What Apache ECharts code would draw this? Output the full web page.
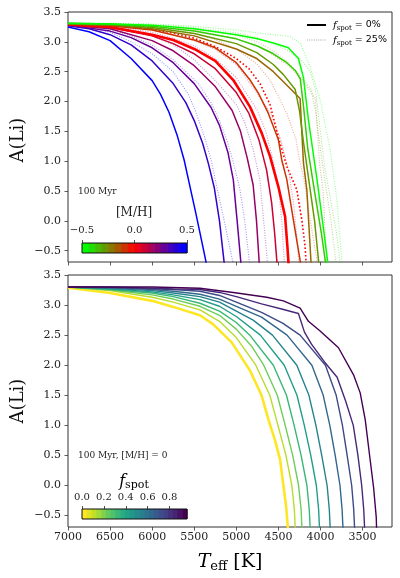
<!DOCTYPE html>
<html><head><meta charset="utf-8">
<script src="https://cdn.jsdelivr.net/npm/echarts/dist/echarts.min.js"></script>
<style>html,body{margin:0;padding:0;background:#fff}#c{width:400px;height:578px}</style>
</head><body><div id="c"></div>
<script>
// ---------- data ----------
const tempTicks = [3500, 4000, 4500, 5000, 5500, 6000, 6500, 7000];
const abundTicks = [-0.5, 0, 0.5, 1, 1.5, 2, 2.5, 3, 3.5];
const mhTicks = [-0.5, 0, 0.5];
const fspotTicks = [0, 0.2, 0.4, 0.6, 0.8];

const metallicities = [0.5, 0.4, 0.3, 0.2, 0.1, 0.0, -0.1, -0.2, -0.3, -0.4, -0.5];

// top panel, f_spot = 0%
const spot0_p05 = [[7000,3.25],[6750,3.17],[6500,3.02],[6250,2.72],[6000,2.35],[5900,2.12],[5800,1.82],[5700,1.42],[5620,1.02],[5550,0.57],[5480,0.12],[5420,-0.28],[5361,-0.68],[5340,-0.9]];
const spot0_p04 = [[7000,3.27],[6750,3.22],[6500,3.12],[6250,2.95],[6000,2.68],[5750,2.3],[5600,1.98],[5500,1.68],[5400,1.3],[5330,0.95],[5261,0.55],[5200,0.0],[5146,-0.68],[5130,-0.9]];
const spot0_p03 = [[7000,3.28],[6500,3.18],[6250,3.07],[6000,2.9],[5750,2.65],[5500,2.3],[5300,1.9],[5200,1.6],[5100,1.15],[5036,0.69],[4990,0.0],[4947,-0.68],[4938,-0.9]];
const spot0_p02 = [[7000,3.28],[6500,3.22],[6000,3.02],[5750,2.85],[5500,2.6],[5250,2.25],[5050,1.85],[4950,1.5],[4870,1.05],[4800,0.6],[4760,0.0],[4729,-0.68],[4720,-0.9]];
const spot0_p01 = [[7000,3.29],[6500,3.24],[6000,3.1],[5750,2.97],[5500,2.8],[5250,2.55],[5000,2.15],[4850,1.8],[4730,1.35],[4640,0.85],[4580,0.3],[4545,-0.2],[4518,-0.68],[4510,-0.9]];
const spot0_p00 = [[7000,3.29],[6500,3.25],[6000,3.12],[5750,3.03],[5500,2.88],[5250,2.68],[5036,2.36],[4837,1.91],[4698,1.47],[4599,1.08],[4500,0.57],[4420,0.07],[4393,-0.43],[4381,-0.68],[4375,-0.9]];
const spot0_m01 = [[7000,3.3],[6500,3.27],[6000,3.2],[5500,3.03],[5250,2.9],[5000,2.65],[4837,2.36],[4738,2.14],[4619,1.8],[4500,1.36],[4460,1.02],[4400,0.69],[4320,0.0],[4240,-0.68],[4225,-0.9]];
const spot0_m02 = [[7000,3.3],[6500,3.28],[6000,3.22],[5500,3.1],[5000,2.88],[4757,2.72],[4560,2.5],[4440,2.33],[4242,2.05],[4222,1.5],[4202,0.97],[4162,0.52],[4113,-0.68],[4105,-0.9]];
const spot0_m03 = [[7000,3.3],[6500,3.29],[6000,3.24],[5500,3.14],[5000,2.97],[4757,2.82],[4560,2.62],[4440,2.45],[4300,2.2],[4250,1.85],[4200,1.3],[4130,0.6],[4070,0.0],[4022,-0.68],[4015,-0.9]];
const spot0_m04 = [[7000,3.31],[6500,3.3],[6000,3.26],[5500,3.18],[5000,3.05],[4750,2.93],[4560,2.8],[4400,2.65],[4300,2.52],[4240,2.38],[4200,1.9],[4150,1.2],[4060,0.4],[3990,-0.2],[3942,-0.68],[3935,-0.9]];
const spot0_m05 = [[7000,3.31],[6500,3.3],[6000,3.28],[5500,3.22],[5000,3.12],[4750,3.05],[4560,2.98],[4381,2.9],[4262,2.72],[4202,2.4],[4143,1.69],[4043,0.71],[3964,-0.13],[3915,-0.68],[3908,-0.9]];

// top panel, f_spot = 25%
const spot25_p05 = [[7000,3.28],[6750,3.24],[6500,3.16],[6250,3.0],[6000,2.8],[5750,2.5],[5570,2.12],[5480,1.82],[5380,1.42],[5300,1.02],[5232,0.57],[5162,0.12],[5102,-0.28],[5043,-0.68],[5020,-0.9]];
const spot25_p04 = [[7000,3.29],[6750,3.26],[6500,3.21],[6250,3.1],[6000,2.95],[5750,2.7],[5450,2.3],[5300,1.98],[5200,1.68],[5100,1.3],[5030,0.95],[4960,0.55],[4900,0.0],[4845,-0.68],[4830,-0.9]];
const spot25_p03 = [[7000,3.29],[6500,3.25],[6250,3.19],[6000,3.1],[5750,2.95],[5500,2.7],[5250,2.35],[5000,1.95],[4900,1.65],[4800,1.2],[4720,0.69],[4675,0.0],[4631,-0.68],[4620,-0.9]];
const spot25_p02 = [[7000,3.3],[6500,3.27],[6000,3.16],[5750,3.06],[5500,2.93],[5250,2.72],[5000,2.4],[4750,1.85],[4650,1.5],[4570,1.05],[4500,0.6],[4460,0.0],[4430,-0.68],[4420,-0.9]];
const spot25_p01 = [[7000,3.3],[6500,3.28],[6000,3.2],[5750,3.12],[5500,3.02],[5250,2.87],[5000,2.62],[4760,2.15],[4590,1.8],[4470,1.35],[4380,0.85],[4320,0.3],[4285,-0.2],[4258,-0.68],[4250,-0.9]];
const spot25_p00 = [[7000,3.3],[6500,3.28],[6000,3.21],[5750,3.15],[5500,3.06],[5250,2.92],[5000,2.72],[4850,2.55],[4718,2.3],[4600,1.95],[4500,1.4],[4400,0.91],[4281,0.52],[4220,0.0],[4185,-0.4],[4171,-0.68],[4165,-0.9]];
const spot25_m01 = [[7000,3.31],[6500,3.29],[6000,3.25],[5500,3.14],[5250,3.04],[5000,2.88],[4750,2.62],[4600,2.36],[4520,2.14],[4400,1.8],[4290,1.36],[4250,1.02],[4195,0.69],[4120,0.0],[4040,-0.68],[4025,-0.9]];
const spot25_m02 = [[7000,3.31],[6500,3.3],[6000,3.27],[5500,3.2],[5000,3.05],[4750,2.93],[4560,2.78],[4380,2.6],[4250,2.42],[4060,2.05],[4035,1.5],[4012,0.97],[3970,0.52],[3925,-0.68],[3915,-0.9]];
const spot25_m03 = [[7000,3.31],[6500,3.3],[6000,3.28],[5500,3.22],[5000,3.11],[4750,3.0],[4560,2.85],[4380,2.65],[4250,2.45],[4110,2.2],[4060,1.85],[4010,1.3],[3940,0.6],[3875,0.0],[3817,-0.68],[3810,-0.9]];
const spot25_m04 = [[7000,3.31],[6500,3.31],[6000,3.29],[5500,3.24],[5000,3.15],[4750,3.07],[4560,2.97],[4380,2.85],[4230,2.7],[4120,2.5],[4060,2.2],[4010,1.6],[3950,0.9],[3860,0.2],[3810,-0.2],[3770,-0.68],[3762,-0.9]];
const spot25_m05 = [[7000,3.31],[6500,3.31],[6000,3.3],[5500,3.26],[5000,3.2],[4750,3.15],[4560,3.12],[4361,3.09],[4242,2.98],[4123,2.58],[4004,2.03],[3885,1.19],[3805,0.35],[3745,-0.68],[3738,-0.9]];

// bottom panel, [M/H] = 0, f_spot = 0.0 ... 0.9
const fspotValues = [0.0, 0.1, 0.2, 0.3, 0.4, 0.5, 0.6, 0.7, 0.8, 0.9];
const fs00 = [[7000,3.29],[6500,3.2],[6000,3.07],[5750,2.97],[5432,2.83],[5274,2.68],[5055,2.38],[4837,1.91],[4700,1.5],[4619,1.1],[4540,0.75],[4480,0.43],[4408,-0.35],[4388,-0.69],[4383,-0.9]];
const fs01 = [[7000,3.3],[6500,3.24],[6000,3.13],[5750,3.05],[5432,2.92],[5200,2.73],[5000,2.46],[4768,2.0],[4602,1.5],[4505,1.0],[4410,0.5],[4340,0.0],[4310,-0.4],[4301,-0.69],[4296,-0.9]];
const fs02 = [[7000,3.3],[6500,3.25],[6000,3.17],[5750,3.1],[5432,2.98],[5200,2.83],[5000,2.6],[4820,2.32],[4674,2.0],[4513,1.5],[4419,1.0],[4330,0.5],[4260,0.0],[4230,-0.4],[4221,-0.69],[4216,-0.9]];
const fs03 = [[7000,3.3],[6500,3.26],[6000,3.2],[5750,3.14],[5432,3.03],[5200,2.9],[5000,2.71],[4840,2.5],[4560,2.0],[4404,1.5],[4313,1.0],[4230,0.5],[4161,0.0],[4133,-0.4],[4123,-0.69],[4118,-0.9]];
const fs04 = [[7000,3.3],[6500,3.27],[6000,3.22],[5750,3.17],[5432,3.09],[5200,2.98],[5000,2.81],[4714,2.5],[4430,2.0],[4279,1.5],[4192,1.0],[4115,0.5],[4049,0.0],[4022,-0.4],[4012,-0.69],[4007,-0.9]];
const fs05 = [[7000,3.3],[6500,3.28],[6000,3.24],[5750,3.2],[5432,3.14],[5200,3.05],[5000,2.9],[4800,2.75],[4570,2.5],[4281,2.0],[4137,1.5],[4054,1.0],[3985,0.5],[3921,0.0],[3895,-0.4],[3885,-0.69],[3880,-0.9]];
const fs06 = [[7000,3.3],[6500,3.29],[6000,3.26],[5750,3.23],[5432,3.18],[5200,3.1],[5000,2.98],[4700,2.8],[4397,2.5],[4102,2.0],[3967,1.5],[3889,1.0],[3825,0.5],[3768,0.0],[3743,-0.4],[3733,-0.69],[3728,-0.9]];
const fs07 = [[7000,3.3],[6500,3.29],[6000,3.27],[5750,3.26],[5432,3.23],[5200,3.16],[5000,3.05],[4700,2.88],[4450,2.7],[4242,2.5],[3941,2.0],[3813,1.5],[3739,1.0],[3683,0.5],[3629,0.0],[3605,-0.4],[3595,-0.69],[3590,-0.9]];
const fs08 = [[7000,3.3],[6500,3.3],[6000,3.28],[5750,3.27],[5432,3.26],[5200,3.21],[5000,3.14],[4700,3.02],[4450,2.93],[4262,2.86],[4190,2.55],[4107,2.35],[3950,2.05],[3802,1.8],[3700,1.4],[3610,1.0],[3555,0.5],[3510,0.0],[3486,-0.4],[3476,-0.69],[3471,-0.9]];
const fs09 = [[7000,3.3],[6000,3.3],[5432,3.28],[5036,3.21],[4638,3.13],[4440,3.07],[4242,2.95],[4143,2.73],[4004,2.57],[3786,2.29],[3607,1.84],[3528,1.54],[3468,1.09],[3409,0.42],[3369,-0.03],[3337,-0.53],[3330,-0.9]];

const topSolid = [spot0_p05, spot0_p04, spot0_p03, spot0_p02, spot0_p01, spot0_p00, spot0_m01, spot0_m02, spot0_m03, spot0_m04, spot0_m05];
const topDotted = [spot25_p05, spot25_p04, spot25_p03, spot25_p02, spot25_p01, spot25_p00, spot25_m01, spot25_m02, spot25_m03, spot25_m04, spot25_m05];
const bottomCurves = [fs00, fs01, fs02, fs03, fs04, fs05, fs06, fs07, fs08, fs09];

// ---------- styles ----------
function mhRGB(m) {
  let r, g, b;
  if (m <= 0) { const t = (m + 0.5) / 0.5; r = 255 * t; g = 255 * (1 - t); b = 0; }
  else { const t = m / 0.5; r = 255 * (1 - t); g = 0; b = 255 * t; }
  return [Math.round(r), Math.round(g), Math.round(b)];
}
function rgbStr(c, a) { return a === undefined ? `rgb(${c[0]},${c[1]},${c[2]})` : `rgba(${c[0]},${c[1]},${c[2]},${a})`; }
const viridisStops = ['#440154','#482475','#414487','#355f8d','#2a788e','#21918c','#22a884','#44bf70','#7ad151','#bddf26','#fde725'];
function hex2rgb(h) { return [parseInt(h.slice(1,3),16), parseInt(h.slice(3,5),16), parseInt(h.slice(5,7),16)]; }
function viridis(t) {
  t = Math.max(0, Math.min(1, t));
  const s = t * 10, i = Math.min(9, Math.floor(s)), f = s - i;
  const a = hex2rgb(viridisStops[i]), b = hex2rgb(viridisStops[i + 1]);
  return [0,1,2].map(k => Math.round(a[k] + (b[k] - a[k]) * f));
}
const SERIF = 'DejaVu Serif';
const fmtNum = v => (v < 0 ? '\u2212' : '') + Math.abs(v).toFixed(1);

const grids = [
  {left: 68, top: 12, width: 324, height: 250},
  {left: 68, top: 275, width: 324, height: 252},
  {left: 82, top: 243, width: 105, height: 10},
  {left: 82, top: 509, width: 105, height: 10}
].map((g, i) => Object.assign({show: i < 2, borderColor: '#333', borderWidth: 1, backgroundColor: 'transparent', containLabel: false}, g));

function tempAxis(gi, labels) {
  return {type: 'value', gridIndex: gi, inverse: true, min: 3150, max: 7000, position: 'bottom',
    axisLine: {show: false, onZero: false}, splitLine: {show: false},
    axisTick: {show: true, customValues: tempTicks, length: 3.5, lineStyle: {color: '#333', width: 0.8}},
    axisLabel: {show: labels, customValues: tempTicks, margin: 5, fontFamily: SERIF, fontSize: 11, color: '#222', formatter: v => String(Math.round(v))}};
}
function abundAxis(gi) {
  return {type: 'value', gridIndex: gi, min: -0.69, max: 3.5, position: 'left',
    axisLine: {show: false, onZero: false}, splitLine: {show: false},
    axisTick: {show: true, customValues: abundTicks, length: 3.5, lineStyle: {color: '#333', width: 0.8}},
    axisLabel: {customValues: abundTicks, margin: 7, fontFamily: SERIF, fontSize: 11, color: '#222', formatter: fmtNum}};
}
function cbarXAxis(gi, min, max, ticks, margin) {
  return {type: 'value', gridIndex: gi, min: min, max: max, position: 'top',
    axisLine: {show: false, onZero: false}, splitLine: {show: false},
    axisTick: {show: true, customValues: ticks, length: 3, lineStyle: {color: '#222', width: 0.8}},
    axisLabel: {customValues: ticks, margin: margin, fontFamily: SERIF, fontSize: 10, color: '#222', formatter: fmtNum}};
}

const series = [];
// top dotted (fspot 25%)
topDotted.forEach((d, i) => {
  const m = metallicities[i], c = mhRGB(m), isZero = m === 0;
  series.push({type: 'line', xAxisIndex: 0, yAxisIndex: 0, data: d, showSymbol: false, symbol: 'none', z: 2,
    lineStyle: {color: rgbStr(c, isZero ? 1 : 0.42), width: isZero ? 1.6 : 1.1, type: isZero ? [1.6, 2.2] : [1, 1.5]}});
});
// top solid (fspot 0%)
topSolid.forEach((d, i) => {
  const m = metallicities[i], c = mhRGB(m), isZero = m === 0;
  series.push({type: 'line', xAxisIndex: 0, yAxisIndex: 0, data: d, showSymbol: false, symbol: 'none', z: 3,
    lineStyle: {color: rgbStr(c), width: isZero ? 2.6 : 1.5}});
});
// bottom
bottomCurves.forEach((d, i) => {
  const f = fspotValues[i], c = viridis(1 - f / 0.9);
  series.push({type: 'line', xAxisIndex: 1, yAxisIndex: 1, data: d, showSymbol: false, symbol: 'none', z: 3,
    lineStyle: {color: rgbStr(c), width: i === 0 ? 2.6 : 1.4}});
});

// colorbars
function cbarSeries(ai, min, max, n, colorAt) {
  const segs = [], cols = [];
  for (let k = 0; k < n; k++) {
    const x0 = min + (max - min) * k / n, x1 = min + (max - min) * (k + 1) / n;
    segs.push([x0, x1]); cols.push(colorAt(k / (n - 1)));
  }
  series.push({type: 'custom', xAxisIndex: ai, yAxisIndex: ai, data: segs, z: 4, silent: true,
    encode: {x: [0, 1]},
    renderItem: (p, api) => {
      const a = api.coord([api.value(0), 1]), b = api.coord([api.value(1), 0]);
      return {type: 'rect', shape: {x: a[0], y: a[1], width: b[0] - a[0] + 0.6, height: b[1] - a[1]}, style: {fill: cols[p.dataIndex]}};
    }});
  series.push({type: 'custom', xAxisIndex: ai, yAxisIndex: ai, data: [[min, max]], z: 5, silent: true,
    encode: {x: [0, 1]},
    renderItem: (p, api) => {
      const a = api.coord([api.value(0), 1]), b = api.coord([api.value(1), 0]);
      return {type: 'rect', shape: {x: a[0], y: a[1], width: b[0] - a[0], height: b[1] - a[1]}, style: {fill: null, stroke: '#111', lineWidth: 1}};
    }});
}
cbarSeries(2, -0.5, 0.5, 16, t => rgbStr(mhRGB(-0.5 + t)));
cbarSeries(3, 0, 0.96, 22, t => rgbStr(viridis(1 - t)));

const sub = {fontFamily: SERIF, fontSize: 7, padding: [6, 0, 0, 0], color: '#222'};
const option = {
  animation: false,
  backgroundColor: '#fff',
  grid: grids,
  xAxis: [tempAxis(0, false), tempAxis(1, true), cbarXAxis(2, -0.5, 0.5, mhTicks, 8), cbarXAxis(3, 0, 0.96, fspotTicks, 7)],
  yAxis: [abundAxis(0), abundAxis(1), {type: 'value', gridIndex: 2, min: 0, max: 1, show: false}, {type: 'value', gridIndex: 3, min: 0, max: 1, show: false}],
  series: series,
  graphic: [
    {type: 'text', x: 18, y: 140, rotation: Math.PI / 2, style: {text: 'A(Li)', font: '18px "DejaVu Serif"', fill: '#111', align: 'center', verticalAlign: 'middle'}},
    {type: 'text', x: 18, y: 401, rotation: Math.PI / 2, style: {text: 'A(Li)', font: '18px "DejaVu Serif"', fill: '#111', align: 'center', verticalAlign: 'middle'}},
    {type: 'text', x: 230, y: 562, style: {text: '{i|T}{s|eff}{n| [K]}', align: 'center', verticalAlign: 'middle',
      rich: {i: {fontFamily: SERIF, fontStyle: 'italic', fontSize: 19, color: '#111'}, s: {fontFamily: SERIF, fontSize: 13, padding: [9, 0, 0, 0], color: '#111'}, n: {fontFamily: SERIF, fontSize: 19, color: '#111'}}}},
    {type: 'text', x: 78, y: 192, style: {text: '100 Myr', font: '9px "DejaVu Serif"', fill: '#222', align: 'left', verticalAlign: 'middle'}},
    {type: 'text', x: 134, y: 213, style: {text: '[M/H]', font: '12px "DejaVu Serif"', fill: '#222', align: 'center', verticalAlign: 'middle'}},
    {type: 'text', x: 78, y: 456, style: {text: '100 Myr, [M/H] = 0', font: '9px "DejaVu Serif"', fill: '#222', align: 'left', verticalAlign: 'middle'}},
    {type: 'text', x: 134, y: 482, style: {text: '{i|f}{s|spot}', align: 'center', verticalAlign: 'middle',
      rich: {i: {fontFamily: SERIF, fontStyle: 'italic', fontSize: 16, color: '#222'}, s: {fontFamily: SERIF, fontSize: 11, padding: [7, 0, 0, 0], color: '#222'}}}},
    {type: 'line', shape: {x1: 307, y1: 25, x2: 326, y2: 25}, style: {stroke: '#000', lineWidth: 2}},
    {type: 'line', shape: {x1: 307, y1: 40, x2: 326, y2: 40}, style: {stroke: 'rgba(0,0,0,0.45)', lineWidth: 0.8, lineDash: [1, 1.2]}},
    {type: 'text', x: 333, y: 25, style: {text: '{i|f}{s|spot}{n| = 0%}', align: 'left', verticalAlign: 'middle',
      rich: {i: {fontFamily: SERIF, fontStyle: 'italic', fontSize: 10, color: '#222'}, s: sub, n: {fontFamily: 'DejaVu Sans', fontSize: 9.5, color: '#222'}}}},
    {type: 'text', x: 333, y: 40, style: {text: '{i|f}{s|spot}{n| = 25%}', align: 'left', verticalAlign: 'middle',
      rich: {i: {fontFamily: SERIF, fontStyle: 'italic', fontSize: 10, color: '#222'}, s: sub, n: {fontFamily: 'DejaVu Sans', fontSize: 9.5, color: '#222'}}}}
  ]
};
const chart = echarts.init(document.getElementById('c'), null, {renderer: 'canvas'});
chart.setOption(option);
</script>
</body></html>
